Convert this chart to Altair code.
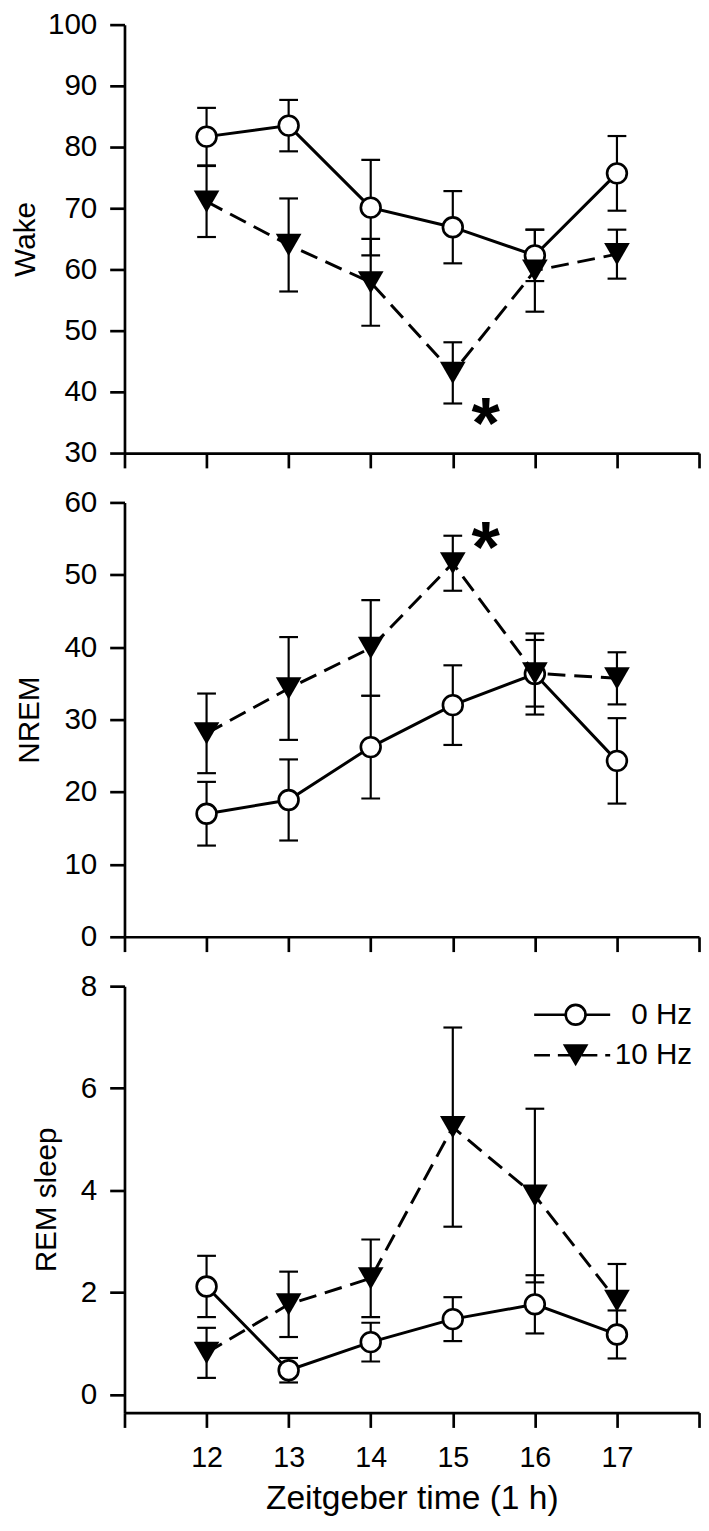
import altair as alt
import pandas as pd

# ---------------- data ----------------
hours = [12, 13, 14, 15, 16, 17]
axis_hours = [11, 12, 13, 14, 15, 16, 17, 18]
series = ["0 Hz", "10 Hz"]

wake_0hz = [81.7, 83.5, 70.1, 66.9, 62.3, 75.7]
wake_0hz_sem = [4.7, 4.2, 7.8, 5.9, 4.2, 6.1]
wake_10hz = [71.1, 64.0, 57.9, 43.1, 59.8, 62.5]
wake_10hz_sem = [5.8, 7.6, 7.1, 5.0, 6.7, 4.0]

nrem_0hz = [17.0, 18.9, 26.2, 32.0, 36.3, 24.3]
nrem_0hz_sem = [4.4, 5.6, 7.1, 5.5, 5.6, 5.9]
nrem_10hz = [28.1, 34.3, 39.9, 51.6, 36.4, 35.7]
nrem_10hz_sem = [5.5, 7.1, 6.6, 3.8, 4.6, 3.6]

rem_0hz = [2.12, 0.48, 1.03, 1.48, 1.77, 1.18]
rem_0hz_sem = [0.60, 0.24, 0.38, 0.43, 0.57, 0.47]
rem_10hz = [0.82, 1.77, 2.28, 5.24, 3.90, 1.84]
rem_10hz_sem = [0.49, 0.64, 0.76, 1.95, 1.70, 0.72]

star_hour = [15.4]
wake_star = [37.7]
nrem_star = [56.3]

wake_ticks = [30, 40, 50, 60, 70, 80, 90, 100]
nrem_ticks = [0, 10, 20, 30, 40, 50, 60]
rem_ticks = [0, 2, 4, 6, 8]

FONT = "Liberation Sans, Arial, Helvetica, sans-serif"


def make_df(m0, s0, m10, s10):
    rows = []
    for g, ms, ss in ((series[0], m0, s0), (series[1], m10, s10)):
        for h, m, s in zip(hours, ms, ss):
            rows.append({"hour": h, "value": m, "lo": m - s, "hi": m + s, "group": g})
    return pd.DataFrame(rows)


def panel(df, ytitle, domain, yticks, height, title_pad, bottom=False,
          star_y=None, legend=False):
    xaxis = alt.Axis(
        values=axis_hours,
        labelExpr="datum.value >= 12 && datum.value <= 17 ? datum.label : ''",
        labelOverlap=False,
        labelFlush=False,
        labelFontSize=29,
        labelPadding=17,
        tickSize=15,
        labels=bottom,
        title="Zeitgeber time (1 h)" if bottom else None,
        titleFontSize=34,
        titlePadding=9,
    )
    yaxis = alt.Axis(
        values=yticks,
        title=ytitle,
        titleFontSize=30,
        titlePadding=title_pad,
        labelFontSize=30,
        labelPadding=13,
        tickSize=15,
    )
    xs = alt.Scale(domain=[11, 18], nice=False, zero=False)
    ys = alt.Scale(domain=domain, nice=False, zero=False)
    X = alt.X("hour:Q", scale=xs, axis=xaxis)

    base = alt.Chart(df)
    rules = base.mark_rule(color="black", strokeWidth=2.2).encode(
        x=X, y=alt.Y("lo:Q", scale=ys, axis=yaxis), y2="hi:Q")
    cap_lo = base.mark_tick(orient="horizontal", size=19, thickness=2.2, color="black",
                            opacity=1).encode(x=X, y=alt.Y("lo:Q", scale=ys, axis=yaxis))
    cap_hi = base.mark_tick(orient="horizontal", size=19, thickness=2.2, color="black",
                            opacity=1).encode(x=X, y=alt.Y("hi:Q", scale=ys, axis=yaxis))
    Y = alt.Y("value:Q", scale=ys, axis=yaxis)
    line0 = base.transform_filter(alt.datum.group == series[0]).mark_line(
        color="black", strokeWidth=3).encode(x=X, y=Y)
    line10 = base.transform_filter(alt.datum.group == series[1]).mark_line(
        color="black", strokeWidth=3, strokeDash=[18, 9]).encode(x=X, y=Y)
    circ = base.transform_filter(alt.datum.group == series[0]).mark_circle(
        size=400, color="white", stroke="black", strokeWidth=2.7, opacity=1).encode(x=X, y=Y)
    tri = base.transform_filter(alt.datum.group == series[1]).mark_point(
        shape="triangle-down", size=676, filled=True, color="black", opacity=1).encode(x=X, y=Y)

    layers = [rules, cap_lo, cap_hi, line0, line10, circ, tri]

    if star_y is not None:
        sdf = pd.DataFrame({"hour": star_hour, "value": star_y})
        star = alt.Chart(sdf).mark_text(
            text="*", fontSize=74, fontWeight="bold", font=FONT, color="black",
            baseline="alphabetic", dy=43).encode(x=X, y=Y)
        layers.append(star)

    if legend:
        for i, g in enumerate(series):
            ldf = pd.DataFrame({"label": [g]})
            ly = 29 + 41 * i
            lc = alt.Chart(ldf)
            if i == 0:
                seg = lc.mark_rule(color="black", strokeWidth=2.7)
                sym = lc.mark_circle(size=400, color="white", stroke="black",
                                     strokeWidth=2.7, opacity=1)
            else:
                seg = lc.mark_rule(color="black", strokeWidth=2.7, strokeDash=[16, 8])
                sym = lc.mark_point(shape="triangle-down", size=676, filled=True,
                                    color="black", opacity=1)
            layers.append(seg.encode(x=alt.value(415), x2=alt.value(492), y=alt.value(ly)))
            layers.append(sym.encode(x=alt.value(457), y=alt.value(ly)))
            layers.append(lc.mark_text(align="right", baseline="middle", fontSize=30,
                                       font=FONT, color="black").encode(
                text="label:N", x=alt.value(575), y=alt.value(ly)))

    return alt.layer(*layers).properties(width=582, height=height)


p_wake = panel(make_df(wake_0hz, wake_0hz_sem, wake_10hz, wake_10hz_sem),
               "Wake", [30, 100], wake_ticks, 434, 7, star_y=wake_star)
p_nrem = panel(make_df(nrem_0hz, nrem_0hz_sem, nrem_10hz, nrem_10hz_sem),
               "NREM", [0, 60], nrem_ticks, 440, 19.6, star_y=nrem_star)
p_rem = panel(make_df(rem_0hz, rem_0hz_sem, rem_10hz, rem_10hz_sem),
              "REM sleep", [-0.35, 8], rem_ticks, 432, 19.3, bottom=True, legend=True)

chart = alt.vconcat(p_wake, p_nrem, p_rem, spacing=50, bounds="flush").properties(
    padding={"top": -8, "left": 2, "right": 0, "bottom": 0}
).configure_view(stroke=None).configure_axis(
    domainColor="black", domainWidth=2.7, tickColor="black", tickWidth=2.7,
    labelColor="black", titleColor="black", labelFont=FONT, titleFont=FONT,
    titleFontWeight="normal", grid=False,
)

chart.save("out.html", embed_options={"renderer": "svg", "actions": False})
